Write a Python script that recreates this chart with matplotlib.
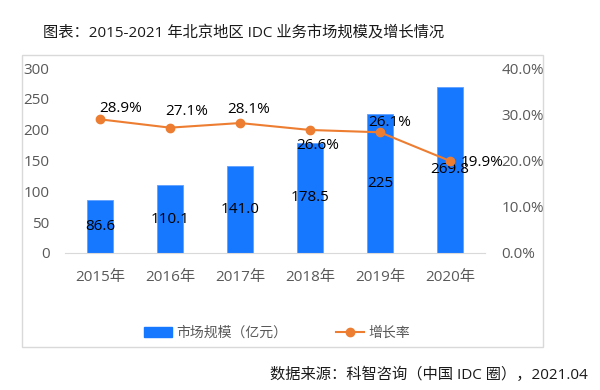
import matplotlib
matplotlib.use('Agg')
import matplotlib.pyplot as plt
from matplotlib.patches import Rectangle, Patch
from matplotlib.lines import Line2D
from matplotlib.ticker import FuncFormatter

plt.rcParams['font.family'] = ['Open Sans', 'Noto Sans CJK SC', 'DejaVu Sans']

# Dữ liệu
years = ['2015年', '2016年', '2017年', '2018年', '2019年', '2020年']
scale = [86.6, 110.1, 141.0, 178.5, 225, 269.8]
scale_labels = ['86.6', '110.1', '141.0', '178.5', '225', '269.8']
growth = [28.9, 27.1, 28.1, 26.6, 26.1, 19.9]

# vị trí nhãn % (pixel offset so với điểm)
growth_offsets = [(21, 11), (17, 16), (9, 14), (8, -16), (10, 10), (32, -2)]

blue = '#1677FF'
orange = '#ED7D31'
grey = '#595959'

fig = plt.figure(figsize=(6, 3.9), dpi=100)
fig.patch.set_facecolor('white')

# khung ngoài
fig.patches.append(Rectangle((22 / 600, 1 - 347 / 390), (543 - 22) / 600, (347 - 55) / 390,
                             transform=fig.transFigure, fill=False, edgecolor='#D9D9D9', lw=1))

ax = fig.add_axes([65 / 600, 1 - 253 / 390, 420 / 600, 185 / 390])
x = range(len(years))
bars = ax.bar(x, scale, width=0.36, color=blue, edgecolor='#5FA0FF', lw=0.6, zorder=2)
ax.set_xlim(-0.5, len(years) - 0.5)
ax.set_ylim(0, 300)
ax.set_yticks(range(0, 301, 50))
ax.set_xticks(list(x))
ax.set_xticklabels(years)
ax.tick_params(axis='y', length=0, pad=11, labelsize=11, labelcolor=grey)
ax.tick_params(axis='x', length=0, pad=12, labelsize=11, labelcolor=grey)
for s in ['top', 'right', 'left']:
    ax.spines[s].set_visible(False)
ax.spines['bottom'].set_color('#D9D9D9')

for b, lab in zip(bars, scale_labels):
    ax.text(b.get_x() + b.get_width() / 2, b.get_height() / 2, lab,
            ha='center', va='center', fontsize=11, color='black', zorder=5)

ax2 = ax.twinx()
ax2.plot(list(x), [g / 100 for g in growth], color=orange, lw=1.5, marker='o', ms=6, zorder=3)
ax2.set_ylim(0, 0.4)
ax2.set_yticks([0, 0.1, 0.2, 0.3, 0.4])
ax2.yaxis.set_major_formatter(FuncFormatter(lambda v, p: f'{v * 100:.1f}%'))
ax2.tick_params(axis='y', length=0, pad=12, labelsize=11, labelcolor=grey)
for s in ['top', 'right', 'left', 'bottom']:
    ax2.spines[s].set_visible(False)

for i, (g, off) in enumerate(zip(growth, growth_offsets)):
    ax2.annotate(f'{g:.1f}%', (i, g / 100), xytext=off, textcoords='offset pixels',
                 ha='center', va='center', fontsize=11, color='black', zorder=6)

# tiêu đề và nguồn
fig.text(43 / 600, 1 - 33 / 390, '图表：2015-2021 年北京地区 IDC 业务市场规模及增长情况',
         ha='left', va='center', fontsize=11, color='#1A1A1A')
fig.text(588 / 600, 1 - 375 / 390, '数据来源：科智咨询（中国 IDC 圈），2021.04',
         ha='right', va='center', fontsize=11, color='#1A1A1A')

handles = [Patch(color=blue),
           Line2D([0], [0], color=orange, lw=1.5, marker='o', ms=6)]
fig.legend(handles, ['市场规模（亿元）', '增长率'], loc='center',
           bbox_to_anchor=(277 / 600, 1 - 333 / 390), ncol=2, frameon=False,
           fontsize=10, handlelength=2.0, handletextpad=0.3, columnspacing=3.5,
           labelcolor=grey)

fig.savefig('out.png', dpi=100, facecolor='white')
